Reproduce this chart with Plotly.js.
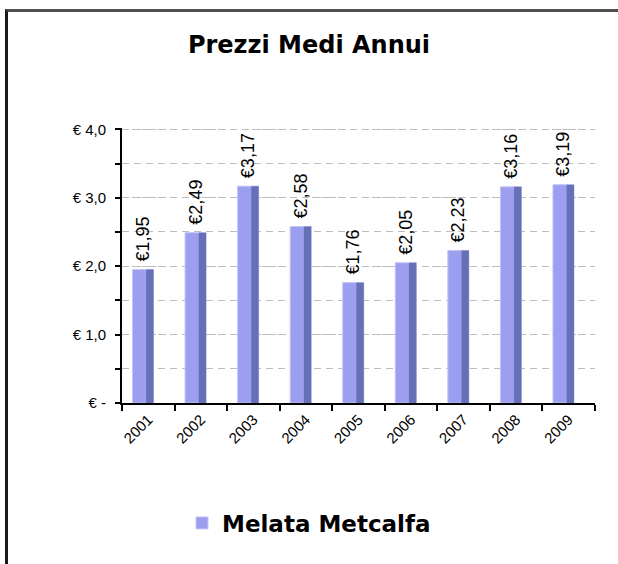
<!DOCTYPE html>
<html>
<head>
<meta charset="utf-8">
<script src="https://cdn.plot.ly/plotly-3.0.1.min.js"></script>
<style>
html,body{margin:0;padding:0;background:#fff;}
#chart{width:618px;height:564px;position:absolute;left:0;top:0;}
#frame{position:absolute;left:5px;top:9px;width:640px;height:600px;border-top:3px solid #505050;border-left:3px solid #1a1a1a;pointer-events:none;}
</style>
</head>
<body>
<div id="chart"></div>
<div id="frame"></div>
<script>
const years = ['2001','2002','2003','2004','2005','2006','2007','2008','2009'];
const prices = [1.95, 2.49, 3.17, 2.58, 1.76, 2.05, 2.23, 3.16, 3.19];
const seriesName = 'Melata Metcalfa';
const yTickVals = [0, 1, 2, 3, 4];
const yTickText = ['€ -', '€ 1,0', '€ 2,0', '€ 3,0', '€ 4,0'];
const chartTitle = 'Prezzi Medi Annui';

const tickFont = {family: 'Liberation Sans, Arial, sans-serif', size: 15, color: '#000'};
const dataFont = {family: 'Liberation Sans, Arial, sans-serif', size: 18, color: '#000'};

const light = {
  type: 'bar', x: years, y: prices, name: seriesName,
  width: 0.4, offset: -0.3,
  marker: {color: '#9c9eef', line: {color: '#c4c4f6', width: 1}},
  text: prices.map(v => '\u00a0€' + v.toFixed(2).replace('.', ',')),
  textposition: 'outside', textangle: -90, cliponaxis: false,
  constraintext: 'none',
  textfont: dataFont,
  hoverinfo: 'x+y'
};
const dark = {
  type: 'bar', x: years, y: prices, name: seriesName, showlegend: false,
  width: 0.14, offset: -0.04,
  marker: {color: '#6670b4', line: {width: 0}},
  hoverinfo: 'skip'
};

const layout = {
  width: 618, height: 564,
  margin: {l: 122, r: 23, t: 128, b: 161, autoexpand: false},
  paper_bgcolor: '#fff', plot_bgcolor: '#fff',
  separators: ',.',
  barmode: 'overlay',
  title: {text: chartTitle, x: 0.5, xanchor: 'center', y: 1 - 45/564, yanchor: 'middle',
          font: {family: 'DejaVu Sans, Verdana, sans-serif', size: 24, color: '#000', weight: 'bold'}},
  xaxis: {
    type: 'category', showline: true, linecolor: '#000', linewidth: 2,
    ticks: 'outside', ticklen: 6, tickcolor: '#000', tickwidth: 2, tickson: 'boundaries',
    tickangle: -45, tickfont: tickFont, showgrid: false, zeroline: false,
    range: [-0.5, 8.5]
  },
  yaxis: {
    range: [0, 4.02], showline: true, linecolor: '#000', linewidth: 2,
    tickmode: 'array', tickvals: yTickVals, ticktext: yTickText,
    ticks: 'outside', ticklen: 5, tickcolor: '#000', tickwidth: 2,
    tickfont: tickFont, ticklabelstandoff: 6,
    showgrid: true, gridcolor: '#bdbdbd', gridwidth: 1, griddash: '4px,6px',
    zeroline: false,
    minor: {dtick: 0.5, tick0: 0, ticks: 'outside', ticklen: 5, tickcolor: '#000', tickwidth: 2,
            showgrid: true, gridcolor: '#bdbdbd', gridwidth: 1, griddash: '7px,5px'}
  },
  legend: {orientation: 'h', x: (309-122)/473, xanchor: 'center',
           y: (403-523)/275, yanchor: 'middle',
           font: {family: 'DejaVu Sans, Verdana, sans-serif', size: 23, color: '#000', weight: 'bold'},
           itemwidth: 30},
  showlegend: true
};

Plotly.newPlot('chart', [light, dark], layout, {displayModeBar: false, staticPlot: true});
</script>
</body>
</html>
